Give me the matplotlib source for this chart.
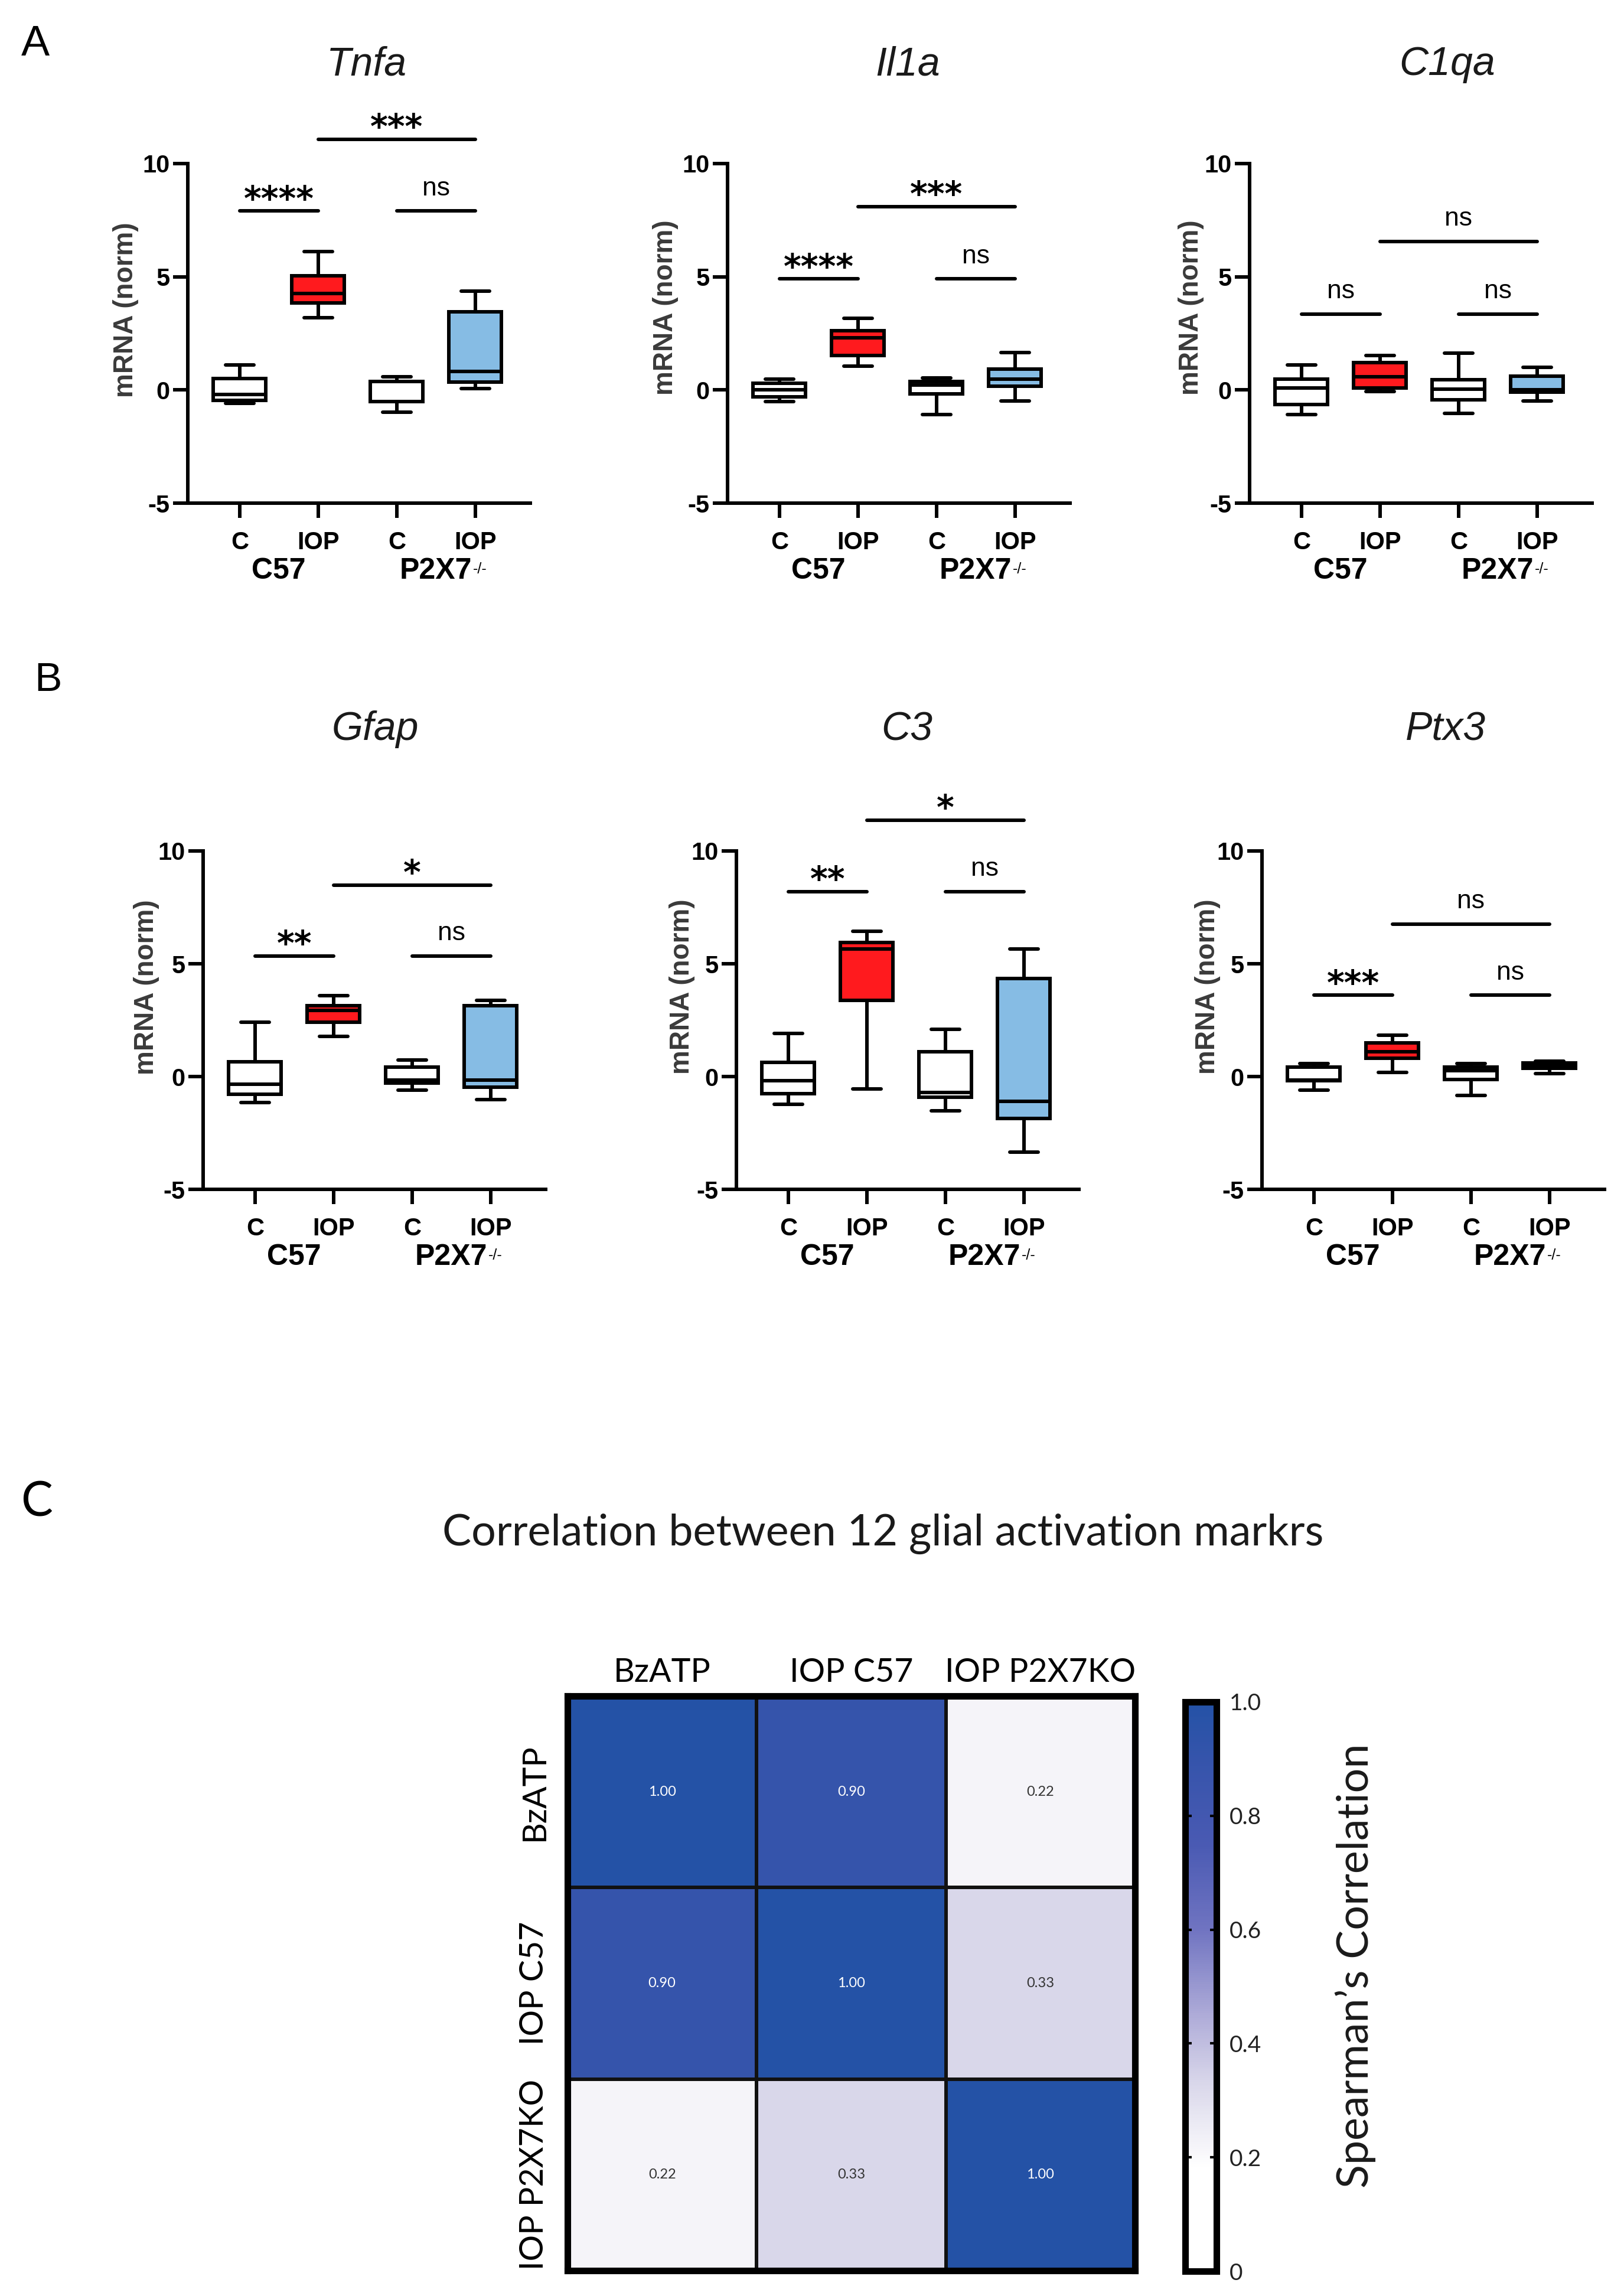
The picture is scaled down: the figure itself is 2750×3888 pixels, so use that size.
''' Box plots of glial marker mRNA (panels A, B) and correlation heatmap (panel C) '''

import matplotlib
matplotlib.use('Agg')
import matplotlib.pyplot as plt
from matplotlib.colors import LinearSegmentedColormap
import numpy as np

plt.rcParams['font.family'] = ['Liberation Sans', 'DejaVu Sans']
plt.rcParams['axes.unicode_minus'] = False

W, H = 2750, 3888
DPI = 100
LW = 4.3

# ---- data -------------------------------------------------------------
groups = ['C', 'IOP', 'C', 'IOP']
box_colors = ['white', '#FF1A1E', 'white', '#86BCE4']
genes = ['Tnfa', 'Il1a', 'C1qa', 'Gfap', 'C3', 'Ptx3']

# one row per group: whisker low, Q1, median, Q3, whisker high
tnfa = [[-0.60, -0.46, -0.21, 0.50, 1.11],
        [3.19, 3.84, 4.26, 5.04, 6.11],
        [-0.98, -0.51, 0.37, 0.37, 0.58],
        [0.06, 0.35, 0.82, 3.45, 4.36]]
il1a = [[-0.52, -0.30, 0.00, 0.30, 0.49],
        [1.04, 1.51, 2.30, 2.61, 3.17],
        [-1.10, -0.17, 0.21, 0.38, 0.52],
        [-0.49, 0.17, 0.49, 0.92, 1.65]]
c1qa = [[-1.09, -0.64, 0.09, 0.49, 1.10],
        [-0.08, 0.09, 0.58, 1.22, 1.53],
        [-1.04, -0.43, 0.04, 0.44, 1.62],
        [-0.48, -0.10, 0.00, 0.61, 1.00]]
gfap = [[-1.16, -0.79, -0.33, 0.65, 2.40],
        [1.79, 2.40, 2.93, 3.14, 3.58],
        [-0.61, -0.30, -0.15, 0.41, 0.72],
        [-1.01, -0.48, -0.15, 3.14, 3.39]]
c3 = [[-1.23, -0.77, -0.19, 0.63, 1.92],
      [-0.55, 3.38, 5.66, 5.94, 6.43],
      [-1.51, -0.92, -0.70, 1.09, 2.10],
      [-3.35, -1.87, -1.10, 4.35, 5.66]]
ptx3 = [[-0.61, -0.19, -0.17, 0.42, 0.58],
        [0.18, 0.82, 1.09, 1.49, 1.82],
        [-0.83, -0.13, 0.27, 0.42, 0.58],
        [0.14, 0.36, 0.49, 0.60, 0.67]]

# significance: C57 C vs IOP, P2X7 C vs IOP, C57 IOP vs P2X7 IOP
tnfa_sig, tnfa_sig_y = ['****', 'ns', '***'], [7.90, 7.90, 11.07]
il1a_sig, il1a_sig_y = ['****', 'ns', '***'], [4.90, 4.90, 8.09]
c1qa_sig, c1qa_sig_y = ['ns', 'ns', 'ns'], [3.36, 3.36, 6.56]
gfap_sig, gfap_sig_y = ['**', 'ns', '*'], [5.35, 5.35, 8.49]
c3_sig, c3_sig_y = ['**', 'ns', '*'], [8.19, 8.19, 11.37]
ptx3_sig, ptx3_sig_y = ['***', 'ns', 'ns'], [3.60, 3.60, 6.76]

corr_labels = ['BzATP', 'IOP C57', 'IOP P2X7KO']
corr = np.array([[1.00, 0.90, 0.22],
                 [0.90, 1.00, 0.33],
                 [0.22, 0.33, 1.00]])

# ---- layout (pixels) --------------------------------------------------
# left, top, right, bottom of each box-plot axes
box_rects = [(318, 277, 898, 852), (1232, 277, 1812, 852), (2116, 277, 2696, 852),
             (344, 1441, 924, 2014), (1247, 1441, 1827, 2014), (2137, 1441, 2717, 2014)]
title_xy = [(621, 127), (1537, 127), (2451, 127), (635, 1253), (1536, 1254), (2448, 1253)]
ylabel_x = [-0.143, -0.143, -0.133, -0.127, -0.120, -0.120]
ylabel_y = [0.57, 0.577, 0.577, 0.597, 0.60, 0.60]

fig = plt.figure(figsize=(W / DPI, H / DPI), dpi=DPI, facecolor='white')


def px_axes(left, top, right, bottom):
    return fig.add_axes([left / W, 1 - bottom / H, (right - left) / W, (bottom - top) / H])


def box_panel(ax, stats, sig, sig_y):
    bstats = [dict(whislo=s[0], q1=s[1], med=s[2], q3=s[3], whishi=s[4]) for s in stats]
    art = ax.bxp(bstats, positions=[1, 2, 3, 4], widths=0.67, capwidths=0.36,
                 patch_artist=True, showfliers=False,
                 boxprops=dict(linewidth=LW, edgecolor='black'),
                 whiskerprops=dict(linewidth=LW, color='black'),
                 capprops=dict(linewidth=LW, color='black', solid_capstyle='round'),
                 medianprops=dict(linewidth=LW, color='black', solid_capstyle='round'))
    for patch, c in zip(art['boxes'], box_colors):
        patch.set_facecolor(c)

    pairs = [(1, 2), (3, 4), (2, 4)]
    for (x0, x1), label, y in zip(pairs, sig, sig_y):
        ax.plot([x0, x1], [y, y], color='black', lw=LW, clip_on=False,
                solid_capstyle='round')
        if label == 'ns':
            ax.text((x0 + x1) / 2, y + 1.0, label, ha='center', va='center',
                    fontsize=32, clip_on=False)
        else:
            ax.text((x0 + x1) / 2, y + 0.45, label, ha='center', va='center',
                    fontsize=41, fontweight='bold', family='DejaVu Sans', clip_on=False)

    ax.set_xlim(0.34, 4.70)
    ax.set_ylim(-5, 10)
    ax.set_yticks([-5, 0, 5, 10])
    ax.set_xticks([1, 2, 3, 4])
    ax.set_xticklabels(groups)
    for s in ['top', 'right']:
        ax.spines[s].set_visible(False)
    for s in ['left', 'bottom']:
        ax.spines[s].set_linewidth(LW)
    ax.tick_params(axis='both', length=18, width=LW, labelsize=30)
    ax.tick_params(axis='y', pad=4)
    ax.tick_params(axis='x', pad=16)
    for lab in ax.get_xticklabels() + ax.get_yticklabels():
        lab.set_fontweight('bold')

    tr = ax.get_xaxis_transform()
    ax.text(1.5, -0.16, 'C57', transform=tr, ha='center', va='top',
            fontsize=36, fontweight='bold')
    t = ax.text(3.5, -0.16, 'P2X7', transform=tr, ha='center', va='top',
                fontsize=36, fontweight='bold')
    ax.annotate('-/-', xy=(1, 1), xycoords=t, xytext=(1, -6),
                textcoords='offset points', ha='left', va='top', fontsize=18)


all_stats = [tnfa, il1a, c1qa, gfap, c3, ptx3]
all_sig = [tnfa_sig, il1a_sig, c1qa_sig, gfap_sig, c3_sig, ptx3_sig]
all_sig_y = [tnfa_sig_y, il1a_sig_y, c1qa_sig_y, gfap_sig_y, c3_sig_y, ptx3_sig_y]

for i, gene in enumerate(genes):
    ax = px_axes(*box_rects[i])
    box_panel(ax, all_stats[i], all_sig[i], all_sig_y[i])
    ax.set_ylabel('mRNA (norm)', fontsize=33, fontweight='bold', color='#3a3a3a')
    ax.yaxis.set_label_coords(ylabel_x[i], ylabel_y[i])
    fig.text(title_xy[i][0] / W, 1 - title_xy[i][1] / H, gene, ha='center',
             va='baseline', fontsize=49, style='italic', color='#1a1a1a')

fig.text(36 / W, 1 - 94 / H, 'A', ha='left', va='baseline', fontsize=52)
fig.text(58 / W, 1 - 1170 / H, 'B', ha='left', va='baseline', fontsize=50)
fig.text(35 / W, 1 - 2567 / H, 'C', ha='left', va='baseline', fontsize=58,
         family='Lato')

# ---- panel C: correlation heatmap --------------------------------------
fig.text(1495 / W, 1 - 2617 / H, 'Correlation between 12 glial activation markrs',
         ha='center', va='baseline', fontsize=53, family='Lato', color='#1a1a1a')

cmap = LinearSegmentedColormap.from_list('spearman', [
    (0.0, '#ffffff'), (0.18, '#ffffff'), (0.22, '#f5f4f9'), (0.33, '#d9d7ea'),
    (0.45, '#aeabd8'), (0.6, '#7074c1'), (0.75, '#4a5ab3'), (0.9, '#3554ab'),
    (1.0, '#2452a6')])

hax = px_axes(961, 2872, 1922, 3845)
mesh = hax.pcolormesh(corr, cmap=cmap, vmin=0, vmax=1, edgecolors='#111111', linewidth=3)
hax.set_xlim(0, 3)
hax.set_ylim(3, 0)
for r in range(3):
    for c in range(3):
        v = corr[r, c]
        hax.text(c + 0.5, r + 0.5, f'{v:.2f}', ha='center', va='center', fontsize=17,
                 family='Lato', color='white' if v > 0.6 else '#333333')
hax.set_xticks([0.5, 1.5, 2.5])
hax.set_yticks([0.5, 1.5, 2.5])
hax.set_xticklabels(corr_labels, fontsize=40, family='Lato')
hax.set_yticklabels(corr_labels, fontsize=40, family='Lato', rotation=90, va='center')
hax.xaxis.tick_top()
hax.tick_params(length=0)
hax.tick_params(axis='x', pad=10)
hax.tick_params(axis='y', pad=22)
for s in hax.spines.values():
    s.set_linewidth(8)

cax = px_axes(2007, 2882, 2060, 3846)
cb = fig.colorbar(mesh, cax=cax, ticks=[0, 0.2, 0.4, 0.6, 0.8, 1.0])
cb.ax.set_yticklabels(['0', '0.2', '0.4', '0.6', '0.8', '1.0'], family='Lato')
cb.outline.set_linewidth(8)
cb.ax.tick_params(direction='in', length=8, width=3, left=True, right=True,
                  labelsize=28, pad=16, labelcolor='#222222')
fig.text(2295 / W, 1 - 3329 / H, 'Spearman\u2019s Correlation', rotation=90,
         ha='center', va='center', fontsize=53, family='Lato', color='#1a1a1a')

fig.savefig('out.png', dpi=DPI, facecolor='white')
